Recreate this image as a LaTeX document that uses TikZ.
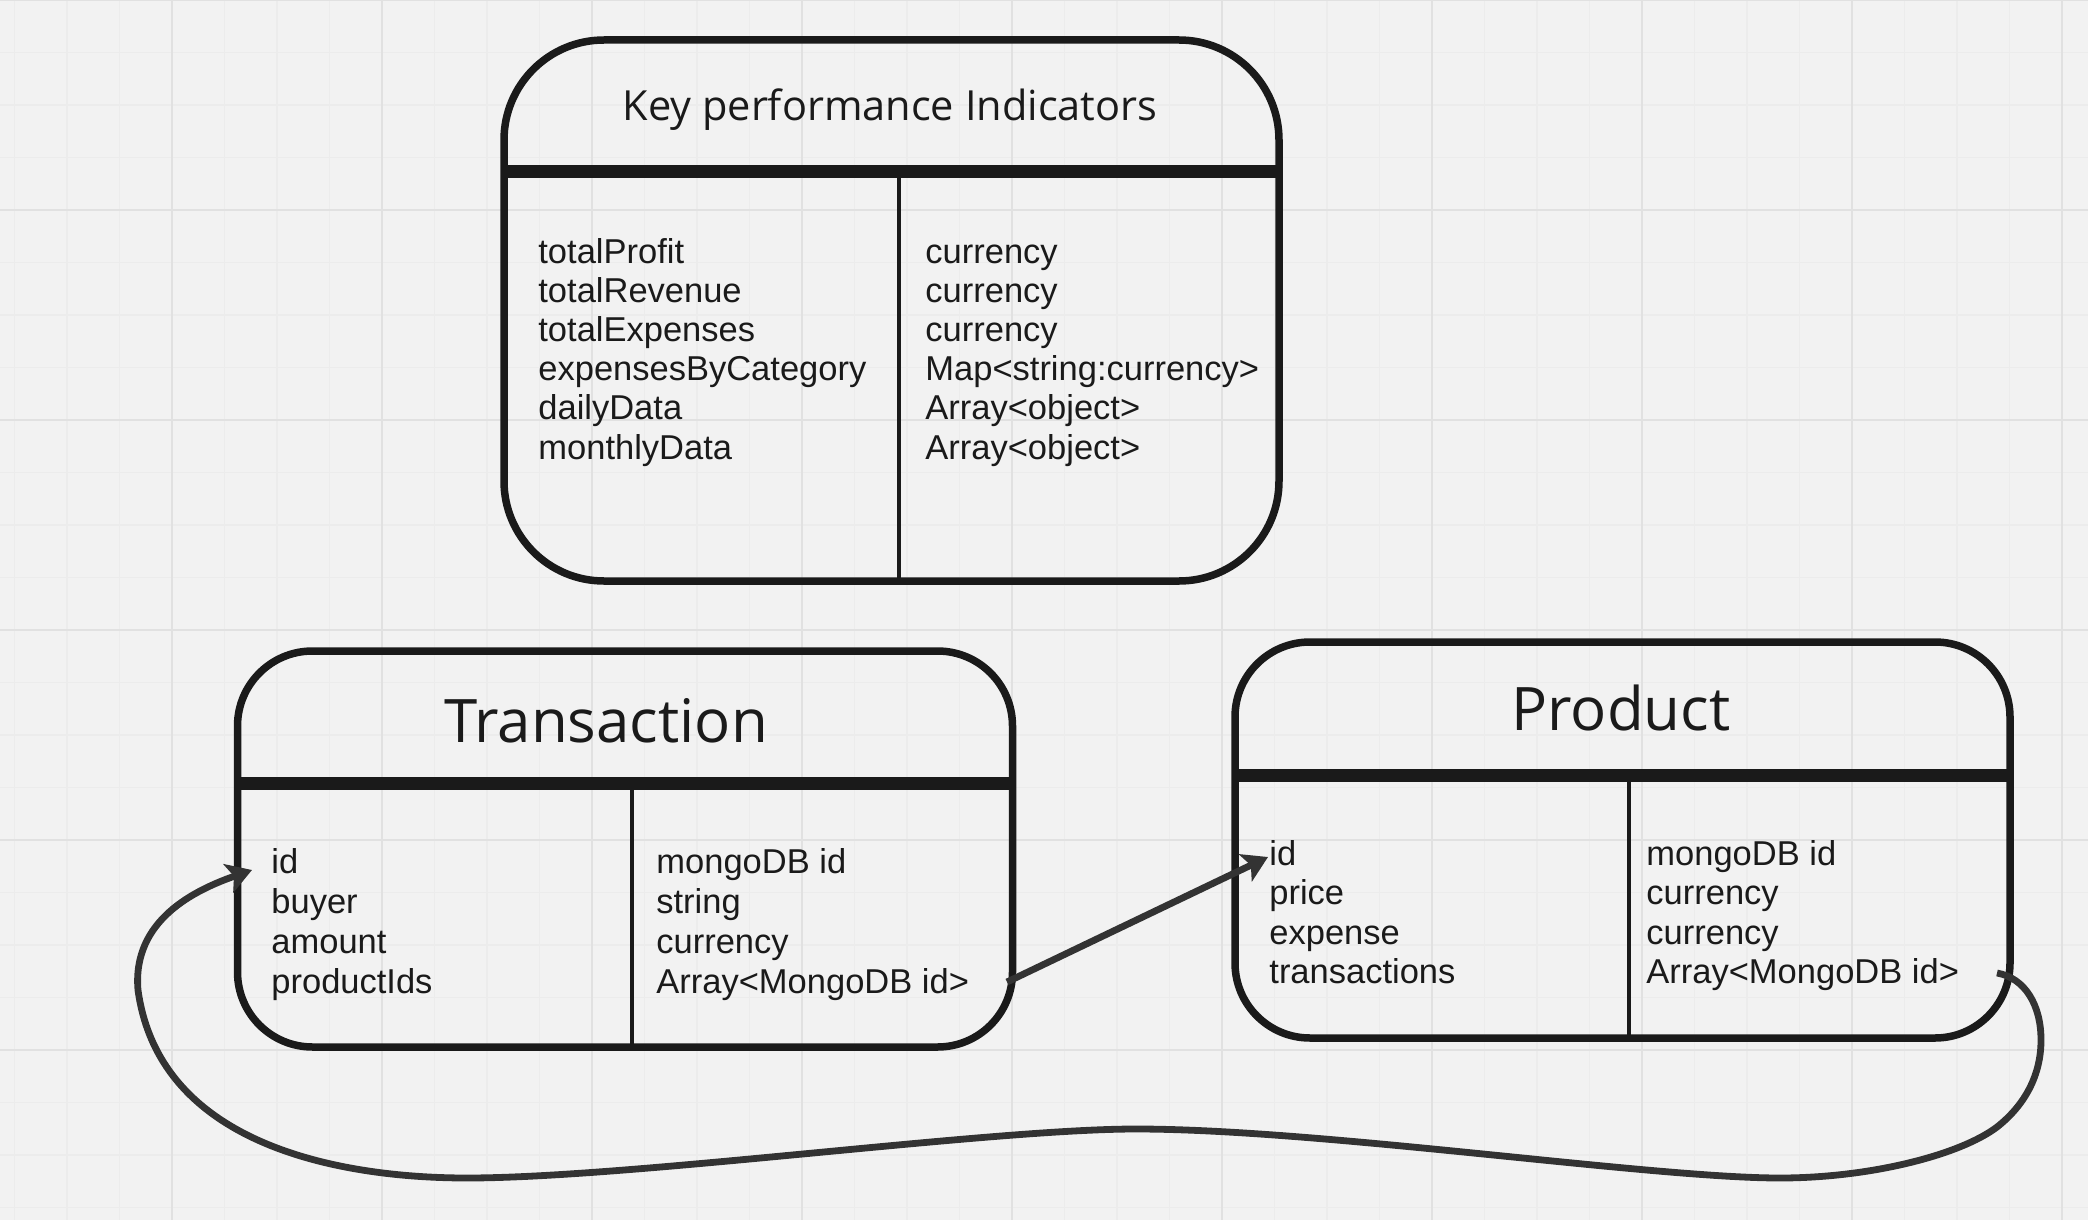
\documentclass[tikz,border=0pt]{standalone}
\usepackage{fontspec}
\setmainfont{Liberation Sans}
\newfontfamily\titlefont{Open Sans}
\usetikzlibrary{arrows.meta}
\definecolor{bgc}{HTML}{F2F2F2}
\definecolor{gridminor}{HTML}{ECECEC}
\definecolor{gridmajor}{HTML}{E1E1E1}
\definecolor{ink}{HTML}{1A1A1A}
\definecolor{connc}{HTML}{333333}
\begin{document}
\begin{tikzpicture}[x=0.5pt,y=-0.5pt,
  entity/.style={draw=ink, line width=3.75pt, rectangle, inner sep=0pt, outer sep=0pt, minimum width=387.5pt, minimum height=198pt, rounded corners=37.5pt},
  headbar/.style={draw=ink, line width=6.5pt},
  divider/.style={draw=ink, line width=2pt},
  field/.style={anchor=base west, inner sep=0pt, text=ink, font=\fontsize{17.25pt}{20pt}\selectfont},
  bigtitle/.style={anchor=base, inner sep=0pt, text=ink, font=\titlefont\fontsize{30pt}{36pt}\selectfont},
  kpititle/.style={anchor=base, inner sep=0pt, text=ink, font=\titlefont\fontsize{20.75pt}{24pt}\selectfont},
  conn/.style={draw=connc, line width=3.4pt, -{Stealth[length=12.5pt,width=15pt,inset=3pt]}}
]
\useasboundingbox (0,0) rectangle (2088,1220);
\fill[bgc] (0,0) rectangle (2088,1220);
\foreach \k in {0,...,39} \draw[gridminor, line width=0.75pt] ({14.5+52.5*\k},0) -- ({14.5+52.5*\k},1220);
\foreach \k in {0,...,23} \draw[gridminor, line width=0.75pt] (0,{52.5*\k}) -- (2088,{52.5*\k});
\foreach \k in {0,...,9} \draw[gridmajor, line width=1pt] ({172+210*\k},0) -- ({172+210*\k},1220);
\foreach \k in {0,...,5} \draw[gridmajor, line width=1pt] (0,{210*\k}) -- (2088,{210*\k});

% Key performance indicators
\node[entity, rounded corners=50pt, minimum height=270.5pt] (kpi) at (891.5,310.5) {};
\draw[headbar] (504,171) -- (1279,171);
\draw[divider] (899,171) -- (899,581);
\node[kpititle] (kpiT) at (890,120) {Key performance Indicators};
\foreach \t [count=\i from 0] in {totalProfit,totalRevenue,totalExpenses,expensesByCategory,dailyData,monthlyData}
  \node[field] (kpiL\i) at (538,{263+39.2*\i}) {\t};
\foreach \t [count=\i from 0] in {currency,currency,currency,Map<string:currency>,Array<object>,Array<object>}
  \node[field] (kpiR\i) at (925,{263+39.2*\i}) {\t};

% Transaction
\node[entity] (trans) at (625,849) {};
\draw[headbar] (237,783) -- (1013,783);
\draw[divider] (632,783) -- (632,1047);
\node[bigtitle] (transT) at (606,742) {Transaction};
\foreach \t [count=\i from 0] in {id,buyer,amount,productIds}
  \node[field] (trL\i) at (271,{873+40*\i}) {\t};
\foreach \t [count=\i from 0] in {mongoDB id,string,currency,Array<MongoDB id>}
  \node[field] (trR\i) at (656,{873+40*\i}) {\t};

% Product
\node[entity] (prod) at (1622.5,840) {};
\draw[headbar] (1235,775) -- (2010,775);
\draw[divider] (1629,775) -- (1629,1038);
\node[bigtitle] (prodT) at (1621,730) {Product};
\foreach \t [count=\i from 0] in {id,price,expense,transactions}
  \node[field] (prL\i) at (1269,{865+39.5*\i}) {\t};
\foreach \t [count=\i from 0] in {mongoDB id,currency,currency,Array<MongoDB id>}
  \node[field] (prR\i) at (1646,{865+39.5*\i}) {\t};

% connectors
\coordinate (t-out) at (1007,982);
\coordinate (p-in) at (1268,857);
\draw[conn] (t-out) -- (p-in);
\coordinate (p-out) at (1997,973);
\coordinate (t-in) at (252,870);
\draw[conn] (p-out) .. controls (2025,978) and (2041,1005) .. (2041,1040)
  .. controls (2041,1075) and (2025,1105) .. (1997,1127)
  .. controls (1960,1155) and (1870,1178) .. (1780,1178)
  .. controls (1650,1178) and (1320,1129) .. (1136,1129)
  .. controls (990,1129) and (630,1178) .. (467,1178)
  .. controls (350,1178) and (160,1150) .. (138,990)
  .. controls (132,920) and (195,890) .. (t-in);
\end{tikzpicture}
\end{document}
